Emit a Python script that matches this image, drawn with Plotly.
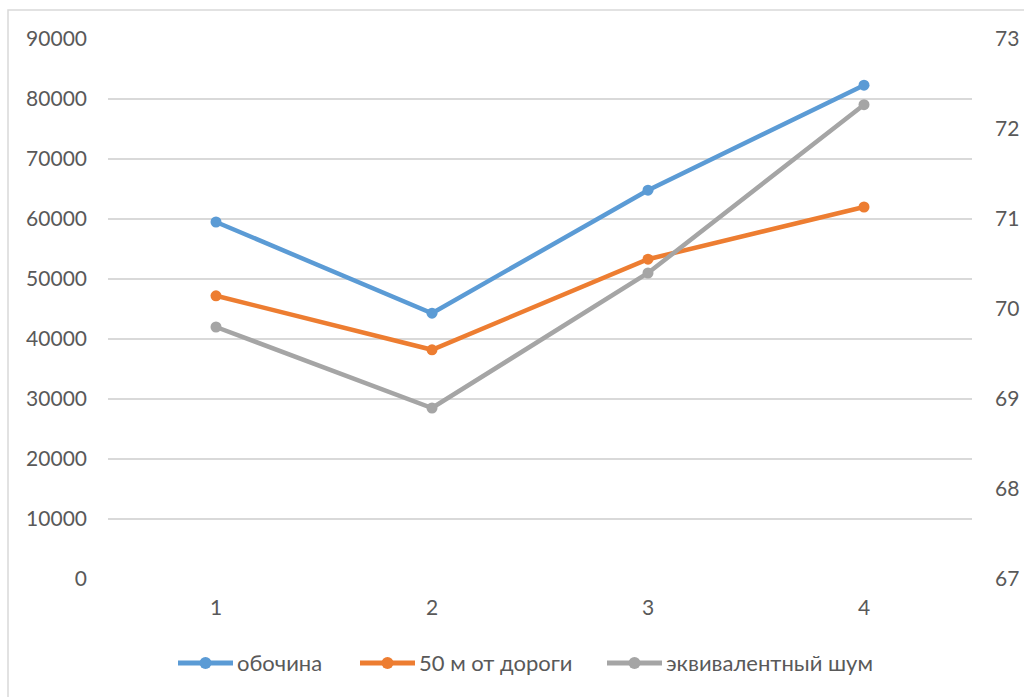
import plotly.graph_objects as go

categories = [1, 2, 3, 4]
obochina = [59500, 44300, 64800, 82300]
ot_dorogi_50m = [47200, 38200, 53300, 62000]
ekv_shum = [69.8, 68.9, 70.4, 72.27]

left_ticks = [0, 10000, 20000, 30000, 40000, 50000, 60000, 70000, 80000, 90000]
right_ticks = [67, 68, 69, 70, 71, 72, 73]

series_names = ["обочина", "50 м от дороги", "эквивалентный шум"]
series_colors = ["#5b9bd5", "#ed7d31", "#a5a5a5"]

FONT = "Lato, Open Sans, sans-serif"
TICK_COLOR = "#595959"
GRID = "#d9d9d9"

W, H = 1024, 697
M_L, M_R, M_T, M_B = 108, 52, 39, 118
PW, PH = W - M_L - M_R, H - M_T - M_B


def px_x(x):
    return (x - M_L) / PW


def px_y(y):
    return (H - M_B - y) / PH


fig = go.Figure()
values = [obochina, ot_dorogi_50m, ekv_shum]
axes = ["y", "y", "y2"]
for name, color, vals, ax in zip(series_names, series_colors, values, axes):
    fig.add_trace(go.Scatter(
        x=categories, y=vals, name=name, mode="lines+markers",
        line=dict(color=color, width=4.5), marker=dict(size=11, color=color),
        yaxis=ax, showlegend=False,
    ))

# Legend row below the plot: line with dot, then label
shapes = []
annotations = []
legend_y = px_y(663)
legend_starts = [178, 360, 607]
for name, color, x0 in zip(series_names, series_colors, legend_starts):
    shapes.append(dict(
        type="line", xref="paper", yref="paper",
        x0=px_x(x0), x1=px_x(x0 + 55), y0=legend_y, y1=legend_y,
        line=dict(color=color, width=5),
    ))
    cx, r = x0 + 27.5, 6
    shapes.append(dict(
        type="circle", xref="paper", yref="paper",
        x0=px_x(cx - r), x1=px_x(cx + r), y0=px_y(663 + r), y1=px_y(663 - r),
        line=dict(color=color, width=0), fillcolor=color,
    ))
    annotations.append(dict(
        xref="paper", yref="paper", x=px_x(x0 + 57), y=legend_y,
        xanchor="left", yanchor="middle", showarrow=False, text=name,
        font=dict(family=FONT, size=22, color=TICK_COLOR),
    ))

# Outer chart border
shapes.append(dict(
    type="rect", xref="paper", yref="paper",
    x0=px_x(8), x1=px_x(1100), y0=px_y(760), y1=px_y(10),
    line=dict(color="#d9d9d9", width=1.5), fillcolor="rgba(0,0,0,0)", layer="below",
))

fig.update_layout(
    width=W, height=H,
    margin=dict(l=M_L, r=M_R, t=M_T, b=M_B),
    paper_bgcolor="white", plot_bgcolor="white",
    font=dict(family=FONT, size=21, color=TICK_COLOR),
    showlegend=False,
    xaxis=dict(
        range=[0.5, 4.5], tickmode="array", tickvals=categories,
        ticktext=[str(c) for c in categories],
        showgrid=False, zeroline=False, showline=False, ticks="",
        ticklabelstandoff=14, automargin=False,
    ),
    yaxis=dict(
        range=[0, 90000], tickmode="array", tickvals=left_ticks,
        ticktext=[str(t) for t in left_ticks],
        showgrid=True, gridcolor=GRID, gridwidth=1.5, zeroline=False, showline=False,
        ticks="", ticklabelstandoff=20, automargin=False,
    ),
    yaxis2=dict(
        range=[67, 73], tickmode="array", tickvals=right_ticks,
        overlaying="y", side="right", showgrid=False, zeroline=False,
        showline=False, ticks="", ticklabelstandoff=22, automargin=False,
    ),
    shapes=shapes,
    annotations=annotations,
)

fig.write_html("out.html")
